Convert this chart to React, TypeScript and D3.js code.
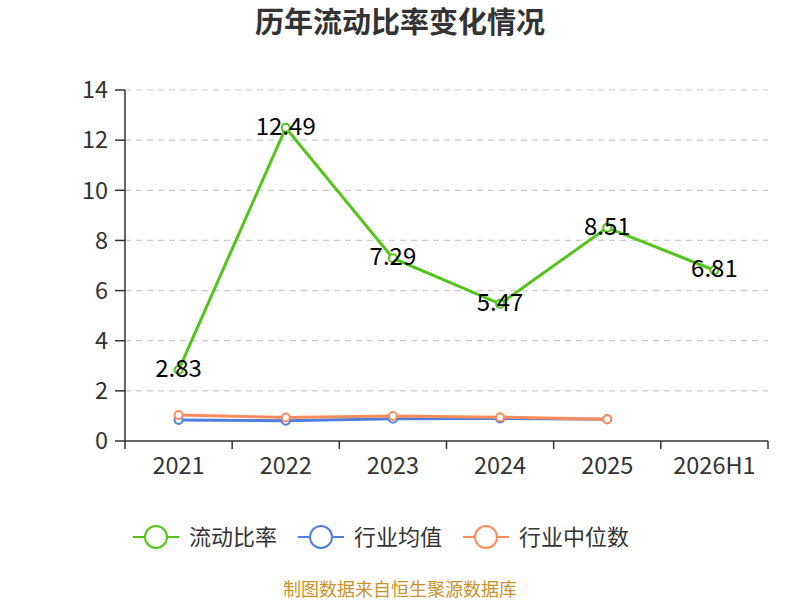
import React from "react";
import * as d3 from "d3";

const categories = ["2021", "2022", "2023", "2024", "2025", "2026H1"];
const currentRatio = [2.83, 12.49, 7.29, 5.47, 8.51, 6.81];
const industryMean = [0.84, 0.81, 0.89, 0.9, 0.87];
const industryMedian = [1.04, 0.94, 1.0, 0.95, 0.87];
const yTicks = [0, 2, 4, 6, 8, 10, 12, 14];

const W = 800, H = 600;
const left = 125, right = 768, top = 90, bottom = 441;
const font = "'Noto Sans CJK SC', 'Noto Sans', sans-serif";

export default function App() {
  const x = d3.scaleBand<string>().domain(categories).range([left, right]);
  const y = d3.scaleLinear().domain([0, 14]).range([bottom, top]);
  const cx = (c: string) => (x(c) as number) + x.bandwidth() / 2;
  const line = d3.line<[number, number]>().x((d) => d[0]).y((d) => d[1]);

  const series = [
    { name: "行业均值", color: "#4e7fe0", data: industryMean, width: 3 },
    { name: "行业中位数", color: "#ff8c5a", data: industryMedian, width: 3 },
    { name: "流动比率", color: "#52c41a", data: currentRatio, width: 3 },
  ];

  const legendItems = [
    { name: "流动比率", color: "#52c41a", x: 133 },
    { name: "行业均值", color: "#4e7fe0", x: 298 },
    { name: "行业中位数", color: "#ff8c5a", x: 463 },
  ];

  return (
    <svg width={W} height={H} style={{ position: "absolute", left: 0, top: 0 }} fontFamily={font}>
      <rect width={W} height={H} fill="#fff" />
      <text x={400} y={33} textAnchor="middle" fontSize={29} fontWeight="bold" fill="#333">
        历年流动比率变化情况
      </text>
      {yTicks.map((t) => (
        <g key={t}>
          {t > 0 && (
            <line x1={left} x2={right} y1={y(t)} y2={y(t)} stroke="#ccc" strokeDasharray="6,5" strokeWidth={1.2} />
          )}
          <line x1={left - 10} x2={left} y1={y(t)} y2={y(t)} stroke="#333" strokeWidth={1.5} />
          <text x={left - 17} y={y(t)} dy="0.35em" textAnchor="end" fontSize={23.5} fill="#333">
            {t}
          </text>
        </g>
      ))}
      <line x1={left} x2={left} y1={top} y2={bottom} stroke="#333" strokeWidth={1.5} />
      <line x1={left} x2={right} y1={bottom} y2={bottom} stroke="#333" strokeWidth={1.5} />
      {categories.map((c, i) => (
        <g key={c}>
          <line x1={x(c) as number} x2={x(c) as number} y1={bottom} y2={bottom + 8} stroke="#333" strokeWidth={1.5} />
          {i === categories.length - 1 && (
            <line x1={right} x2={right} y1={bottom} y2={bottom + 8} stroke="#333" strokeWidth={1.5} />
          )}
          <text x={cx(c)} y={474} textAnchor="middle" fontSize={23.5} fill="#333">
            {c}
          </text>
        </g>
      ))}
      {series.map((s) => {
        const pts: [number, number][] = s.data.map((v, i) => [cx(categories[i]), y(v)]);
        return (
          <g key={s.name}>
            <path d={line(pts) || ""} fill="none" stroke={s.color} strokeWidth={s.width} />
            {pts.map((p, i) => (
              <circle key={i} cx={p[0]} cy={p[1]} r={4} fill="#fff" stroke={s.color} strokeWidth={2} />
            ))}
          </g>
        );
      })}
      {currentRatio.map((v, i) => (
        <text key={i} x={cx(categories[i])} y={y(v)} dy="0.3em" textAnchor="middle" fontSize={24} fill="#000">
          {v.toFixed(2)}
        </text>
      ))}
      {legendItems.map((l) => (
        <g key={l.name}>
          <line x1={l.x} x2={l.x + 46} y1={537} y2={537} stroke={l.color} strokeWidth={2} />
          <circle cx={l.x + 23} cy={537} r={11} fill="#fff" stroke={l.color} strokeWidth={2} />
          <text x={l.x + 56} y={537} dy="0.35em" fontSize={22} fill="#333">
            {l.name}
          </text>
        </g>
      ))}
      <text x={400} y={596} textAnchor="middle" fontSize={18} fill="#c8922a">
        制图数据来自恒生聚源数据库
      </text>
    </svg>
  );
}
